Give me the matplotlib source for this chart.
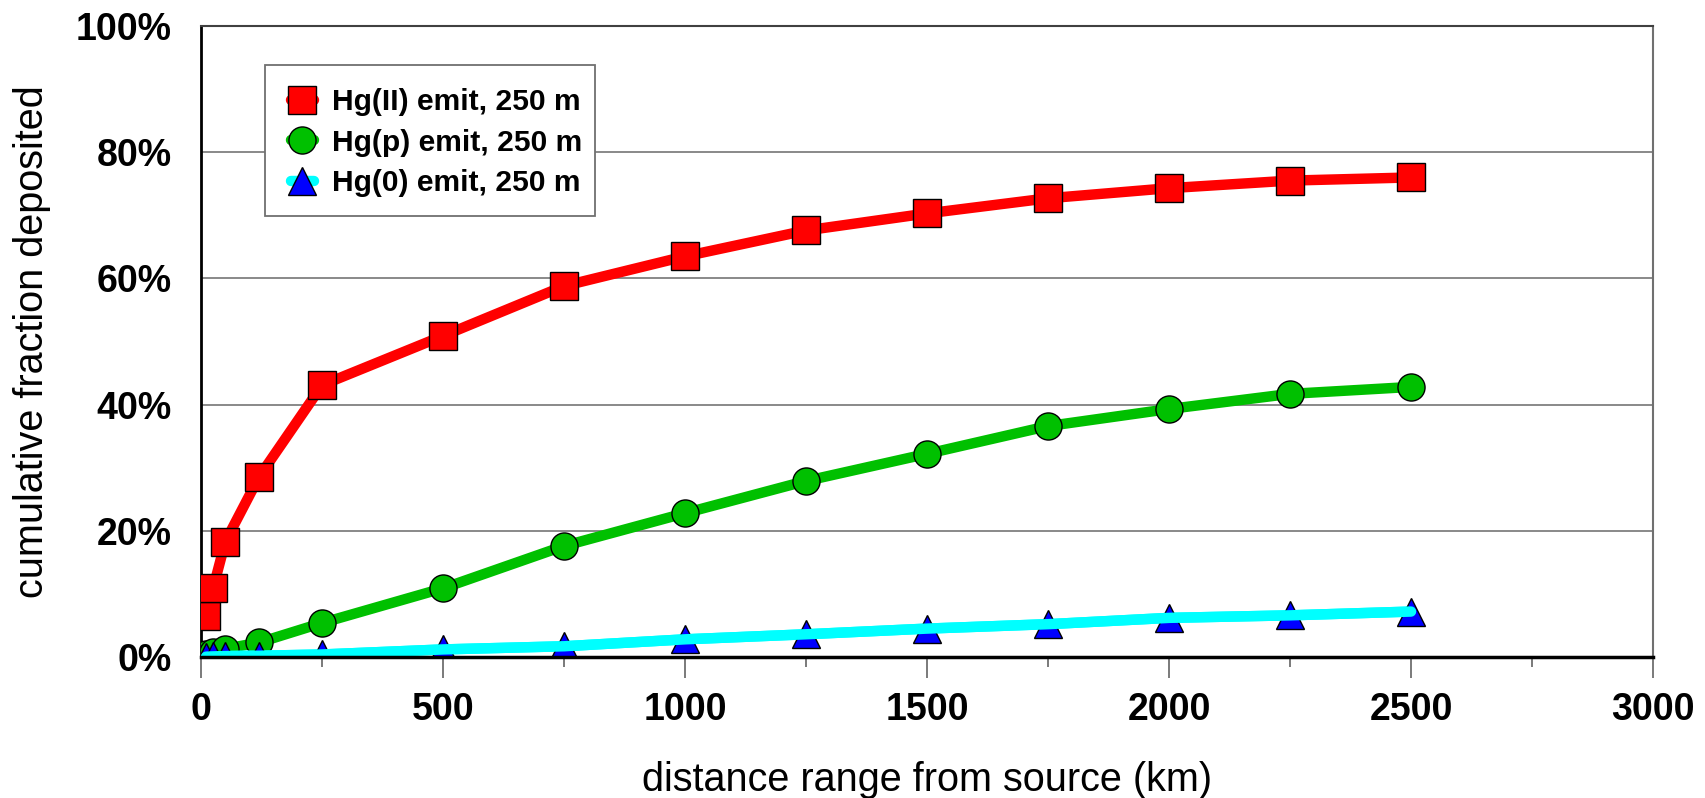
import numpy as np
import matplotlib.pyplot as plt
from matplotlib.patches import Rectangle
from matplotlib.ticker import MultipleLocator, PercentFormatter

plt.rcParams['font.family'] = ['Liberation Sans', 'DejaVu Sans']

# distancia (km) y fraccion acumulada depositada (%)
dist = [10, 25, 50, 120, 250, 500, 750, 1000, 1250, 1500, 1750, 2000, 2250, 2500]
hg2 = [6.5, 11.0, 18.3, 28.6, 43.1, 50.9, 58.8, 63.5, 67.6, 70.3, 72.7, 74.3, 75.5, 76.0]
hgp = [0.4, 0.8, 1.3, 2.3, 5.4, 10.9, 17.6, 22.8, 27.9, 32.2, 36.6, 39.3, 41.7, 42.8]
hg0 = [0.05, 0.1, 0.15, 0.2, 0.4, 1.2, 1.7, 2.8, 3.6, 4.5, 5.2, 6.2, 6.6, 7.2]

labels = ["Hg(II) emit, 250 m", "Hg(p) emit, 250 m", "Hg(0) emit, 250 m"]

fig = plt.figure(figsize=(17.05, 7.98), dpi=100)
ax = fig.add_axes([0.118, 0.1767, 0.8515, 0.7907])

ms = 19.5
lw = 7.5
ax.plot(dist, hg2, color="red", lw=lw, marker="s", ms=ms, mfc="red", mec="black",
        mew=1, solid_capstyle="round", label=labels[0], zorder=3)
ax.plot(dist, hgp, color="#00C000", lw=lw, marker="o", ms=ms, mfc="#00C000", mec="black",
        mew=1, solid_capstyle="round", label=labels[1], zorder=3)
ax.plot(dist, hg0, color="cyan", lw=lw, marker="^", ms=ms, mfc="blue", mec="black",
        mew=1, solid_capstyle="round", label=labels[2], zorder=3)
# la linea cian va por encima de los triangulos
ax.plot(dist, hg0, color="cyan", lw=lw, solid_capstyle="round", zorder=4)

ax.set_xlim(0, 3000)
ax.set_ylim(0, 100)
ax.xaxis.set_major_locator(MultipleLocator(500))
ax.xaxis.set_minor_locator(MultipleLocator(250))
ax.yaxis.set_major_locator(MultipleLocator(20))
ax.yaxis.set_major_formatter(PercentFormatter(decimals=0))

ax.grid(axis="y", color="#808080", lw=1.3)
ax.set_axisbelow(True)

ax.spines["left"].set_color("black")
ax.spines["left"].set_linewidth(2)
ax.spines["bottom"].set_color("black")
ax.spines["bottom"].set_linewidth(2.5)
ax.spines["bottom"].set_zorder(5)
ax.spines["top"].set_color("#404040")
ax.spines["top"].set_linewidth(1.5)
ax.spines["right"].set_color("#707070")
ax.spines["right"].set_linewidth(1.5)

ax.tick_params(axis="x", which="major", direction="out", length=15, width=1.3,
               color="#707070", pad=10, labelsize=27)
ax.tick_params(axis="x", which="minor", direction="out", length=7, width=1.3,
               color="#707070")
ax.tick_params(axis="y", length=0, pad=21, labelsize=27)
for t in ax.get_xticklabels() + ax.get_yticklabels():
    t.set_fontweight("bold")

ax.set_xlabel("distance range from source (km)", fontsize=28.5, labelpad=24)
ax.set_ylabel("cumulative fraction deposited", fontsize=28.5, labelpad=18)

# leyenda sin marco, el marco se dibuja aparte
leg = ax.legend(loc="center left", bbox_to_anchor=(0.062, 0.815), borderaxespad=0,
                frameon=False, prop={"weight": "bold", "size": 21.6}, handlelength=0.75,
                handletextpad=0.6, labelspacing=0.42, borderpad=0)
leg.set_zorder(6)
box = Rectangle((0.044, 0.699), 0.2272, 0.24, transform=ax.transAxes,
                facecolor="white", edgecolor="#707070", lw=1.3, zorder=5)
ax.add_patch(box)

fig.savefig("out.png", dpi=100)
